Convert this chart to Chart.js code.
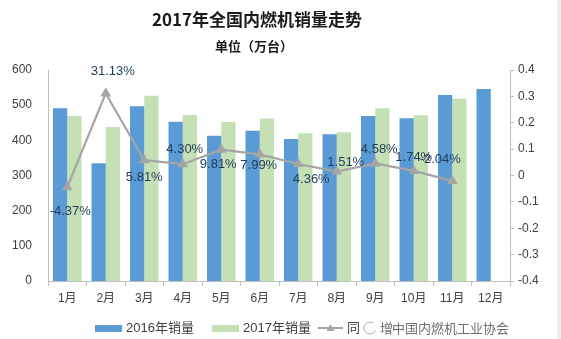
<!DOCTYPE html>
<html>
<head>
<meta charset="utf-8">
<script src="https://cdn.jsdelivr.net/npm/chart.js"></script>
<style>
  html, body { margin: 0; padding: 0; background: #fff; }
  .wrap { position: relative; width: 561px; height: 339px; }
  .edge { position: absolute; right: 0; top: 0; width: 4px; height: 339px; background: #ececec; }
</style>
</head>
<body>
<div class="wrap">
  <canvas id="salesChart" width="561" height="339"></canvas>
  <div class="edge"></div>
</div>
<script>
// 数据
const months = ['1月', '2月', '3月', '4月', '5月', '6月', '7月', '8月', '9月', '10月', '11月', '12月'];
const sales2016 = [491, 335, 497, 453, 413, 427, 404, 417, 469, 463, 529, 546];
const sales2017 = [469, 438, 527, 472, 452, 462, 420, 423, 491, 471, 518, null];
const growth = [-0.0437, 0.3113, 0.0581, 0.0430, 0.0981, 0.0799, 0.0436, 0.0151, 0.0458, 0.0174, -0.0204, null];
const leftTicks = [0, 100, 200, 300, 400, 500, 600];
const rightTicks = [-0.4, -0.3, -0.2, -0.1, 0, 0.1, 0.2, 0.3, 0.4];

// label offsets from each point [dx, dy]
const labelShift = [[3, 24], [7, -22], [0, 17], [2, -15], [-3, 15], [-1, 11], [13, 15], [9, -9], [4, -14], [0, -13], [-12, -21]];

const FONT = '"Liberation Sans", "Noto Sans CJK SC", sans-serif';

const growthLabels = {
    id: 'growthLabels',
    afterDatasetsDraw(chart) {
        const ctx = chart.ctx;
        const meta = chart.getDatasetMeta(2);
        ctx.save();
        ctx.font = '13px ' + FONT;
        ctx.fillStyle = '#1f3b57';
        ctx.textAlign = 'center';
        ctx.textBaseline = 'middle';
        meta.data.forEach((pt, i) => {
            const v = growth[i];
            if (v === null || v === undefined) return;
            const s = labelShift[i] || [0, -12];
            ctx.fillText((v * 100).toFixed(2) + '%', pt.x + s[0], pt.y + s[1]);
        });
        ctx.restore();
    }
};

// 标题 + 图例 + 水印
const extras = {
    id: 'extras',
    afterDraw(chart) {
        const ctx = chart.ctx;
        const ds = chart.data.datasets;
        ctx.save();
        ctx.fillStyle = '#1a1a1a';
        ctx.textAlign = 'center';
        ctx.textBaseline = 'middle';
        ctx.font = 'bold 17px "Noto Sans CJK SC", sans-serif';
        ctx.fillText('2017年全国内燃机销量走势', 257, 20);
        ctx.font = 'bold 13px "Noto Sans CJK SC", sans-serif';
        ctx.fillText('单位（万台）', 254, 46);

        // legend
        const ly = 328;
        ctx.textAlign = 'left';
        ctx.font = '13px ' + FONT;
        ctx.fillStyle = ds[0].backgroundColor;
        ctx.fillRect(95, ly - 3, 27, 7);
        ctx.fillStyle = '#404040';
        ctx.fillText(ds[0].label, 126, ly);
        ctx.fillStyle = ds[1].backgroundColor;
        ctx.fillRect(212, ly - 3, 27, 7);
        ctx.fillStyle = '#404040';
        ctx.fillText(ds[1].label, 243, ly);
        ctx.strokeStyle = ds[2].borderColor;
        ctx.lineWidth = 2;
        ctx.beginPath();
        ctx.moveTo(318, ly); ctx.lineTo(343, ly);
        ctx.stroke();
        ctx.fillStyle = ds[2].borderColor;
        ctx.beginPath();
        ctx.moveTo(330.5, ly - 4); ctx.lineTo(334.5, ly + 3); ctx.lineTo(326.5, ly + 3);
        ctx.closePath(); ctx.fill();
        ctx.fillStyle = '#404040';
        ctx.fillText('同', 347, ly);

        // watermark over legend
        ctx.fillStyle = 'rgba(255,255,255,0.8)';
        ctx.fillRect(360, ly - 9, 145, 18);
        ctx.strokeStyle = 'rgba(150,150,150,0.8)';
        ctx.lineWidth = 1;
        ctx.beginPath();
        ctx.arc(370, ly, 6, 0.4, Math.PI * 1.7);
        ctx.stroke();
        ctx.font = '13px "Noto Sans CJK SC", sans-serif';
        ctx.fillStyle = 'rgba(95,95,95,0.9)';
        ctx.fillText('增', 380, ly);
        ctx.fillText('中国内燃机工业协会', 392, ly);
        ctx.restore();
    }
};

new Chart(document.getElementById('salesChart').getContext('2d'), {
    data: {
        labels: months,
        datasets: [
            {
                type: 'bar', label: '2016年销量', data: sales2016, yAxisID: 'y',
                backgroundColor: '#5b9bd5', borderWidth: 0,
                categoryPercentage: 0.74, barPercentage: 1.0, order: 2
            },
            {
                type: 'bar', label: '2017年销量', data: sales2017, yAxisID: 'y',
                backgroundColor: '#c5e0b4', borderWidth: 0,
                categoryPercentage: 0.74, barPercentage: 1.0, order: 2
            },
            {
                type: 'line', label: '同比增长', data: growth, yAxisID: 'y1',
                borderColor: '#a5a5a5', backgroundColor: '#a5a5a5', borderWidth: 2.2,
                pointStyle: 'triangle', pointRadius: 4, tension: 0, spanGaps: false, order: 1
            }
        ]
    },
    options: {
        responsive: false,
        animation: false,
        devicePixelRatio: 1,
        layout: { padding: { top: 70, left: 0, right: 0, bottom: 28 } },
        plugins: {
            title: { display: false },
            tooltip: { enabled: false },
            legend: { display: false }
        },
        scales: {
            x: {
                afterFit(s) { s.height = 30; },
                grid: { display: true, drawOnChartArea: false, offset: true, color: '#bfbfbf', tickLength: 5 },
                border: { color: '#bfbfbf' },
                ticks: { font: { family: FONT, size: 12 }, color: '#404040', padding: 5, maxRotation: 0 }
            },
            y: {
                position: 'left', min: 0, max: 600,
                afterBuildTicks(s) { s.ticks = leftTicks.map(v => ({ value: v })); },
                afterFit(s) { s.width = 48; },
                grid: { display: false },
                border: { color: '#bfbfbf' },
                ticks: { font: { family: FONT, size: 12 }, color: '#404040', padding: 8 }
            },
            y1: {
                position: 'right', min: -0.4, max: 0.4,
                afterBuildTicks(s) { s.ticks = rightTicks.map(v => ({ value: v })); },
                afterFit(s) { s.width = 51; },
                grid: { display: true, drawOnChartArea: false, color: '#bfbfbf', tickLength: 4 },
                border: { color: '#bfbfbf' },
                ticks: { font: { family: FONT, size: 12 }, color: '#404040', padding: 4,
                         callback: v => String(Math.round(v * 10) / 10) }
            }
        }
    },
    plugins: [growthLabels, extras]
});
</script>
</body>
</html>
